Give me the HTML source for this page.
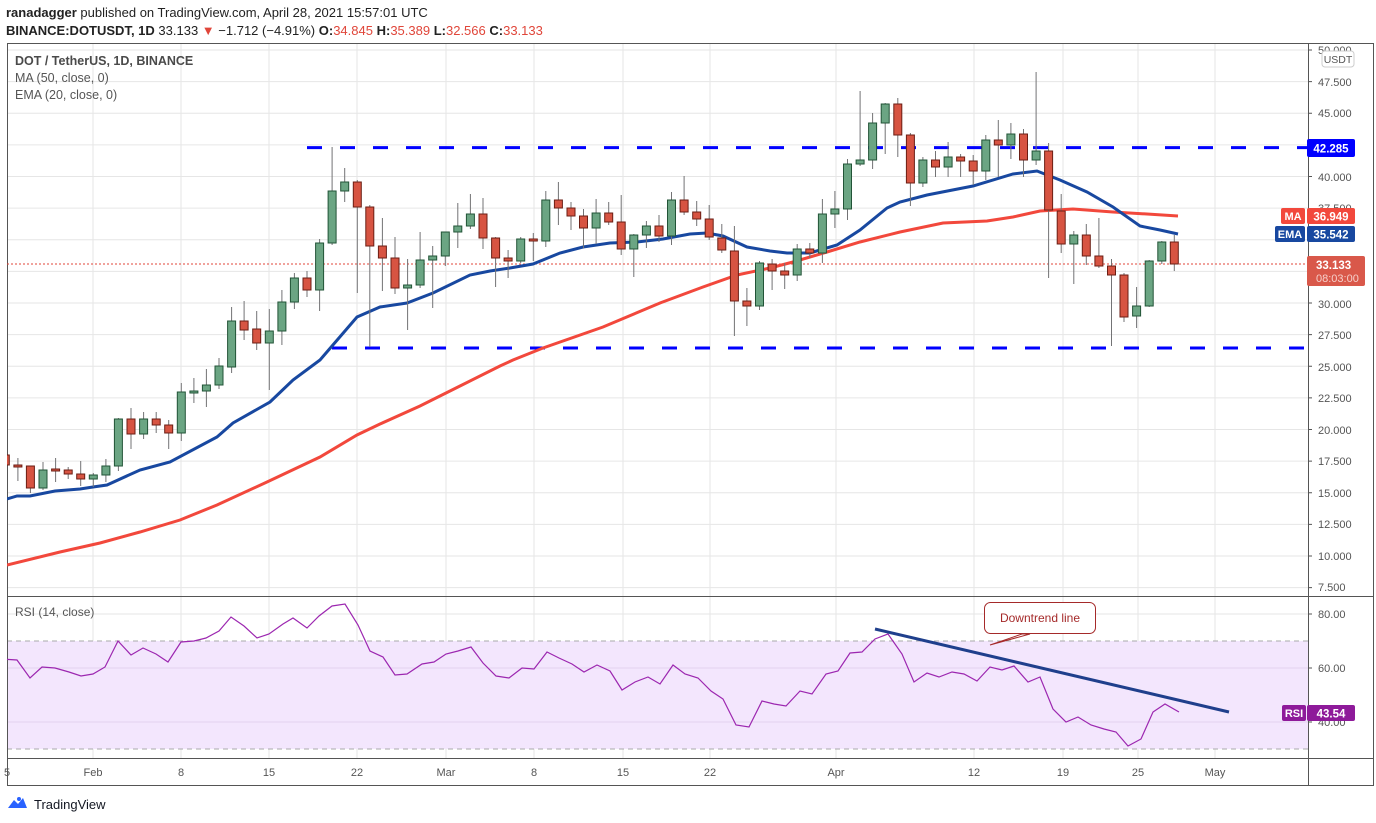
<!DOCTYPE html>
<html><head><meta charset="utf-8"><style>
body{margin:0;background:#fff;width:1376px;height:823px;overflow:hidden;font-family:"Liberation Sans",sans-serif}
svg{position:absolute;left:0;top:0}
.w path{stroke:#737375;stroke-width:1;fill:none}
.g rect{fill:#6ba583;stroke:#225437;stroke-width:1}
.r rect{fill:#d75442;stroke:#6b1e14;stroke-width:1}
.ax{font-size:11px;fill:#555}
</style></head><body>
<svg width="1376" height="823" viewBox="0 0 1376 823">
<text x="6" y="17" font-size="13" fill="#222"><tspan font-weight="bold">ranadagger</tspan> published on TradingView.com, April 28, 2021 15:57:01 UTC</text>
<text x="6" y="35" font-size="13" fill="#222"><tspan font-weight="bold">BINANCE:DOTUSDT, 1D</tspan> 33.133 <tspan fill="#e0463a">▼</tspan> −1.712 (−4.91%) <tspan font-weight="bold">O:</tspan><tspan fill="#e0463a">34.845</tspan> <tspan font-weight="bold">H:</tspan><tspan fill="#e0463a">35.389</tspan> <tspan font-weight="bold">L:</tspan><tspan fill="#e0463a">32.566</tspan> <tspan font-weight="bold">C:</tspan><tspan fill="#e0463a">33.133</tspan></text>
<defs><clipPath id="mc"><rect x="7" y="44" width="1301" height="552"/></clipPath><clipPath id="rc"><rect x="7" y="597" width="1301" height="161"/></clipPath></defs>
<!-- grid -->
<g stroke="#e6e6e6" stroke-width="1">
<path d="M7 50H1308M7 81.6H1308M7 113.3H1308M7 144.9H1308M7 176.5H1308M7 208.1H1308M7 239.8H1308M7 271.4H1308M7 303H1308M7 334.6H1308M7 366.3H1308M7 397.9H1308M7 429.5H1308M7 461.1H1308M7 492.8H1308M7 524.4H1308M7 556H1308M7 587.6H1308"/>
<path d="M93 44V758M181 44V758M269 44V758M357 44V758M446 44V758M534 44V758M623 44V758M710 44V758M836 44V758M974 44V758M1063 44V758M1138 44V758M1215 44V758"/>
</g>
<!-- RSI band -->
<rect x="7" y="641" width="1301" height="108" fill="#f3e6fd"/>
<g stroke="#e3d3ee"><path d="M7 668H1308M7 722H1308"/></g>
<path d="M7 614H1308" stroke="#e6e6e6"/>
<path d="M7 641H1308M7 749H1308" stroke="#aaa" stroke-dasharray="5,4"/>
<!-- frame -->
<g fill="none" stroke="#555" stroke-width="1">
<rect x="7.5" y="43.5" width="1366" height="742"/>
<path d="M1308.5 44V786M7 596.5H1374M7 758.5H1374"/>
</g>
<!-- horizontal levels -->
<path d="M307 147.6H1308" stroke="#0000ff" stroke-width="3" stroke-dasharray="15,18"/>
<path d="M332 348H1308" stroke="#0000ff" stroke-width="3" stroke-dasharray="15,18"/>
<path d="M7 264H1308" stroke="#e0463a" stroke-width="1" stroke-dasharray="2,2"/>
<g clip-path="url(#mc)">
<polyline fill="none" stroke="#f2483c" stroke-width="3" points="7,565 60,552 100,543 140,532 180,520 217,505 267,482 320,457 357,435 380,424 420,406 460,386 500,366 513,360 543,348 603,327 660,303 703,287 737,275 770,268 793,262 827,252 860,242 900,232 943,223 987,221 1013,217 1040,211 1073,209 1113,212 1147,214 1178,216"/>
<polyline fill="none" stroke="#1848a0" stroke-width="3" points="7,499 17,496 30,496 55,491 80,489 93,487 107,485 140,470 170,462 217,437 233,423 270,402 293,380 320,360 357,317 380,307 407,303 433,293 470,275 490,271 510,268 533,264 560,253 583,247 610,243 637,242 663,239 690,234 707,233 723,236 747,247 770,251 787,253 810,253 837,245 860,230 887,208 900,202 927,195 973,186 1013,174 1037,171 1060,180 1087,192 1113,207 1140,226 1160,230 1178,234"/>
<g class="w"><path d="M5.3 452V470M17.9 458V481M30.4 466V493M43 462V490M55.6 458V482M68.2 467V479M80.7 461V486M93.3 473V487M105.9 459V482M118.4 418V471M131 408V449M143.6 412V439M156.2 412V433M168.7 420V449M181.3 383V441M193.9 378V403M206.4 369V407M219 358V389M231.6 307V373M244.1 301V340M256.7 311V350M269.3 309V390M281.9 290V345M294.4 273V309M307 271V297M319.6 239V311M332.1 147V245M344.7 168V202M357.3 180V293M369.8 205V347M382.4 218V291M395 237V294M407.6 259V330M420.1 232V288M432.7 246V308M445.3 232V266M457.8 203V248M470.4 194V229M483 198V249M495.6 237V287M508.1 250V278M520.7 237V263M533.3 233V261M545.8 191V247M558.4 182V225M571 202V230M583.5 209V248M596.1 199V244M608.7 202V225M621.2 195V255M633.8 234V277M646.4 221V248M659 215V242M671.5 192V245M684.1 176V215M696.7 201V226M709.2 205V240M721.8 224V253M734.4 226V336M746.9 288V326M759.5 261V310M772.1 259V290M784.7 263V289M797.2 244V281M809.8 243V258M822.4 199V263M834.9 191V228M847.5 159V220M860.1 91V166M872.6 113V169M885.2 103V154M897.8 98V157M910.4 133V206M922.9 157V187M935.5 151V177M948.1 142V177M960.6 154V177M973.2 155V185M985.8 135V180M998.3 120V177M1010.9 123V159M1023.5 129V177M1036.1 72V165M1048.6 143V278M1061.2 194V253M1073.8 231V284M1086.3 224V265M1098.9 218V268M1111.5 259V346M1124 273V322M1136.6 287V328M1149.2 260V307M1161.8 241V264M1174.3 235V271"/></g>
<g class="r">
<rect x="1.3" y="455" width="8" height="10"/><rect x="13.9" y="465" width="8" height="2"/><rect x="26.4" y="466" width="8" height="22"/><rect x="51.6" y="469" width="8" height="2"/><rect x="64.2" y="470" width="8" height="4"/><rect x="76.7" y="474" width="8" height="5"/>
<rect x="127" y="419" width="8" height="15"/><rect x="152.2" y="419" width="8" height="6"/><rect x="164.7" y="425" width="8" height="8"/>
<rect x="240.1" y="321" width="8" height="9"/><rect x="252.7" y="329" width="8" height="14"/><rect x="303" y="278" width="8" height="12"/>
<rect x="353.3" y="182" width="8" height="25"/><rect x="365.8" y="207" width="8" height="39"/><rect x="378.4" y="246" width="8" height="12"/><rect x="391" y="258" width="8" height="30"/>
<rect x="479" y="214" width="8" height="24"/><rect x="491.6" y="238" width="8" height="20"/><rect x="504.1" y="258" width="8" height="3"/><rect x="529.3" y="239" width="8" height="2"/>
<rect x="554.4" y="200" width="8" height="8"/><rect x="567" y="208" width="8" height="8"/><rect x="579.5" y="216" width="8" height="12"/><rect x="604.7" y="213" width="8" height="9"/><rect x="617.2" y="222" width="8" height="27"/><rect x="655" y="226" width="8" height="10"/>
<rect x="680.1" y="200" width="8" height="12"/><rect x="692.7" y="212" width="8" height="7"/><rect x="705.2" y="219" width="8" height="18"/><rect x="717.8" y="238" width="8" height="12"/><rect x="730.4" y="251" width="8" height="50"/><rect x="742.9" y="301" width="8" height="5"/>
<rect x="768.1" y="264" width="8" height="7"/><rect x="780.7" y="271" width="8" height="4"/><rect x="805.8" y="249" width="8" height="4"/>
<rect x="893.8" y="104" width="8" height="31"/><rect x="906.4" y="135" width="8" height="48"/><rect x="931.5" y="160" width="8" height="7"/><rect x="956.6" y="157" width="8" height="4"/><rect x="969.2" y="161" width="8" height="10"/><rect x="994.3" y="140" width="8" height="5"/><rect x="1019.5" y="134" width="8" height="26"/>
<rect x="1044.6" y="151" width="8" height="59"/><rect x="1057.2" y="211" width="8" height="33"/><rect x="1082.3" y="235" width="8" height="21"/><rect x="1094.9" y="256" width="8" height="10"/><rect x="1107.5" y="266" width="8" height="9"/><rect x="1120" y="275" width="8" height="42"/><rect x="1170.3" y="242" width="8" height="22"/>
</g>
<g class="g">
<rect x="39" y="470" width="8" height="18"/><rect x="89.3" y="475" width="8" height="4"/><rect x="101.9" y="466" width="8" height="9"/><rect x="114.4" y="419" width="8" height="47"/><rect x="139.6" y="419" width="8" height="15"/>
<rect x="177.3" y="392" width="8" height="41"/><rect x="189.9" y="391" width="8" height="2"/><rect x="202.4" y="385" width="8" height="6"/><rect x="215" y="366" width="8" height="19"/><rect x="227.6" y="321" width="8" height="46"/>
<rect x="265.3" y="331" width="8" height="12"/><rect x="277.9" y="302" width="8" height="29"/><rect x="290.4" y="278" width="8" height="24"/><rect x="315.6" y="243" width="8" height="47"/><rect x="328.1" y="191" width="8" height="52"/><rect x="340.7" y="182" width="8" height="9"/>
<rect x="403.6" y="285" width="8" height="3"/><rect x="416.1" y="260" width="8" height="25"/><rect x="428.7" y="256" width="8" height="4"/><rect x="441.3" y="232" width="8" height="24"/><rect x="453.8" y="226" width="8" height="6"/><rect x="466.4" y="214" width="8" height="12"/>
<rect x="516.7" y="239" width="8" height="22"/><rect x="541.8" y="200" width="8" height="41"/><rect x="592.1" y="213" width="8" height="15"/><rect x="629.8" y="235" width="8" height="14"/><rect x="642.4" y="226" width="8" height="9"/><rect x="667.5" y="200" width="8" height="36"/>
<rect x="755.5" y="263" width="8" height="43"/><rect x="793.2" y="249" width="8" height="26"/><rect x="818.4" y="214" width="8" height="39"/><rect x="830.9" y="209" width="8" height="5"/><rect x="843.5" y="164" width="8" height="45"/><rect x="856.1" y="160" width="8" height="4"/><rect x="868.6" y="123" width="8" height="37"/><rect x="881.2" y="104" width="8" height="19"/>
<rect x="918.9" y="160" width="8" height="23"/><rect x="944.1" y="157" width="8" height="10"/><rect x="981.8" y="140" width="8" height="31"/><rect x="1006.9" y="134" width="8" height="11"/><rect x="1032.1" y="151" width="8" height="9"/>
<rect x="1069.8" y="235" width="8" height="9"/><rect x="1132.6" y="306" width="8" height="10"/><rect x="1145.2" y="261" width="8" height="45"/><rect x="1157.8" y="242" width="8" height="19"/>
</g>
</g>
<!-- legend -->
<text x="15" y="65" font-size="12.5" fill="#4a4a4a" font-weight="bold">DOT / TetherUS, 1D, BINANCE</text>
<text x="15" y="82" font-size="12.5" fill="#555">MA (50, close, 0)</text>
<text x="15" y="99" font-size="12.5" fill="#555">EMA (20, close, 0)</text>
<!-- price axis -->
<g class="ax">
<text x="1318" y="54">50.000</text><text x="1318" y="86">47.500</text><text x="1318" y="117">45.000</text><text x="1318" y="181">40.000</text><text x="1318" y="212">37.500</text><text x="1318" y="308">30.000</text><text x="1318" y="339">27.500</text><text x="1318" y="371">25.000</text><text x="1318" y="402">22.500</text><text x="1318" y="434">20.000</text><text x="1318" y="465">17.500</text><text x="1318" y="497">15.000</text><text x="1318" y="528">12.500</text><text x="1318" y="560">10.000</text><text x="1318" y="591">7.500</text>
<text x="1318" y="618">80.00</text><text x="1318" y="672">60.00</text><text x="1318" y="726">40.00</text>
</g>
<path d="M1308 50h4M1308 81.6h4M1308 113.3h4M1308 176.5h4M1308 303h4M1308 334.6h4M1308 366.3h4M1308 397.9h4M1308 429.5h4M1308 461.1h4M1308 492.8h4M1308 524.4h4M1308 556h4M1308 587.6h4M1308 614h4M1308 668h4M1308 722h4" stroke="#555"/>
<rect x="1322" y="51" width="32" height="16" rx="3" fill="#fff" stroke="#ccc"/><text x="1338" y="63" font-size="10.5" fill="#555" text-anchor="middle">USDT</text>
<rect x="1307" y="139" width="48" height="18" rx="2" fill="#0000ff"/><text x="1331" y="152.5" font-size="11.5" fill="#fff" font-weight="bold" text-anchor="middle">42.285</text>
<rect x="1281" y="208" width="24" height="16" rx="2" fill="#f2483c"/><text x="1293" y="220" font-size="11" fill="#fff" font-weight="bold" text-anchor="middle">MA</text>
<rect x="1307" y="208" width="48" height="16" rx="2" fill="#f2483c"/><text x="1331" y="220.5" font-size="11.5" fill="#fff" font-weight="bold" text-anchor="middle">36.949</text>
<rect x="1275" y="226" width="30" height="16" rx="2" fill="#1848a0"/><text x="1290" y="238" font-size="11" fill="#fff" font-weight="bold" text-anchor="middle">EMA</text>
<rect x="1307" y="226" width="48" height="16" rx="2" fill="#1848a0"/><text x="1331" y="238.5" font-size="11.5" fill="#fff" font-weight="bold" text-anchor="middle">35.542</text>
<rect x="1307" y="256" width="58" height="30" rx="2" fill="#d9584a"/><text x="1316" y="269" font-size="11.5" fill="#fff" font-weight="bold">33.133</text><text x="1316" y="282" font-size="11" fill="#f6d0cb">08:03:00</text>
<!-- RSI -->
<text x="15" y="616" font-size="12" fill="#555">RSI (14, close)</text>
<g clip-path="url(#rc)">
<polyline fill="none" stroke="#9c27b0" stroke-width="1.2" points="0,659 17,660 30,678 42,667 55,668 69,672 81,676 93,674 105,667 118,641 131,655 143,648 156,654 168,662 181,642 194,641 206,638 219,631 231,617 244,626 257,638 269,634 283,624 293,618 307,628 319,616 332,606 345,604 358,625 370,651 383,657 395,675 407,674 422,664 434,662 446,654 458,651 471,647 483,663 496,676 509,678 522,668 534,669 547,652 559,658 572,664 584,672 597,665 610,671 622,690 635,682 648,677 660,684 673,665 685,674 698,678 711,691 723,699 736,725 749,727 762,701 774,704 786,706 800,691 812,694 826,674 838,671 850,653 862,652 875,639 888,634 902,654 914,682 927,673 939,677 952,672 964,674 977,681 990,667 1002,670 1014,666 1028,682 1040,677 1053,709 1066,722 1078,717 1091,725 1104,729 1116,732 1128,746 1141,739 1153,712 1165,704 1179,712"/>
<path d="M875 629L1229 712" stroke="#1f3f8c" stroke-width="3"/>
</g>
<path d="M990 645L1030 634L1022 634Z" fill="#fff" stroke="#a52a2a"/>
<rect x="984.5" y="602.5" width="111" height="31" rx="6" fill="#fff" stroke="#a52a2a"/>
<text x="1040" y="622" font-size="12" fill="#a52a2a" text-anchor="middle">Downtrend line</text>
<rect x="1282" y="705" width="24" height="16" rx="2" fill="#8e1a9a"/><text x="1294" y="717" font-size="11" fill="#fff" font-weight="bold" text-anchor="middle">RSI</text>
<rect x="1307" y="705" width="48" height="16" rx="2" fill="#8e1a9a"/><text x="1331" y="717.5" font-size="11.5" fill="#fff" font-weight="bold" text-anchor="middle">43.54</text>
<!-- time axis -->
<g class="ax" text-anchor="middle">
<text x="7" y="776">5</text><text x="93" y="776">Feb</text><text x="181" y="776">8</text><text x="269" y="776">15</text><text x="357" y="776">22</text><text x="446" y="776">Mar</text><text x="534" y="776">8</text><text x="623" y="776">15</text><text x="710" y="776">22</text><text x="836" y="776">Apr</text><text x="974" y="776">12</text><text x="1063" y="776">19</text><text x="1138" y="776">25</text><text x="1215" y="776">May</text>
</g>
<!-- footer -->
<g fill="#131722"><path d="M8 808l6-8 4 4 5-6 4 10z" fill="#2962ff"/><circle cx="19" cy="799" r="2" fill="#2962ff"/></g>
<text x="34" y="809" font-size="13" fill="#131722">TradingView</text>
</svg>
</body></html>
